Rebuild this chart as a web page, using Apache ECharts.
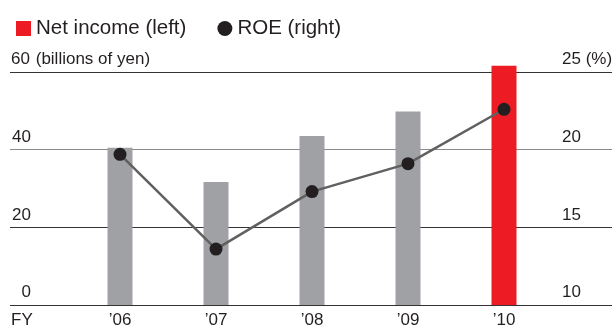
<!DOCTYPE html>
<html>
<head>
<meta charset="utf-8">
<script src="https://cdn.jsdelivr.net/npm/echarts@6/dist/echarts.min.js"></script>
<style>
  html, body { margin: 0; padding: 0; background: #fff; }
  #chart { width: 614px; height: 325px; }
</style>
</head>
<body>
<div id="chart"></div>
<script>
const years = ['\u201906', '\u201907', '\u201908', '\u201909', '\u201910']
const netIncome = [40.5, 31.7, 43.5, 49.8, 61.6]
const roe = [19.7, 13.6, 17.3, 19.1, 22.6]
const leftTicks = [0, 20, 40, 60]
const rightTicks = [10, 15, 20, 25]

const font = 'Liberation Sans'
const ink = '#231f20'
const grey = '#a0a1a5'
const red = '#ed1c24'

const chart = echarts.init(document.getElementById('chart'))

const opt = {
    animation: false,
    textStyle: { fontFamily: font, color: ink },
    legend: {
        left: 11,
        top: 13,
        itemWidth: 15,
        itemHeight: 15,
        itemGap: 31,
        textStyle: { fontSize: 20.5, color: ink, fontFamily: font },
        data: [
            { name: 'Net income (left)', icon: 'rect', itemStyle: { color: red } },
            { name: 'ROE (right)', icon: 'circle', itemStyle: { color: ink } }
        ]
    },
    grid: [
        { left: 10, right: 2, top: 72, height: 233, outerBoundsMode: 'none' },
        { left: 72, right: 62, top: 72, height: 233, outerBoundsMode: 'none' }
    ],
    xAxis: [
        { gridIndex: 0, type: 'value', show: false, min: 0, max: 1 },
        {
            gridIndex: 1,
            type: 'category',
            data: years,
            axisLine: { show: false },
            axisTick: { show: false },
            axisLabel: { fontSize: 17, color: ink, margin: 7, fontFamily: font }
        }
    ],
    yAxis: [
        {
            gridIndex: 0,
            type: 'value',
            position: 'left',
            min: leftTicks[0],
            max: leftTicks[leftTicks.length - 1],
            interval: 20,
            axisLine: { show: false },
            axisTick: { show: false },
            splitLine: { lineStyle: { color: ['#333', '#333', '#8a8a8a', '#333'], width: 1.2 } },
            axisLabel: {
                inside: true,
                margin: 0,
                verticalAlign: 'bottom',
                padding: [0, 0, 4, 0],
                formatter: v => v === 60 ? '{n|' + v + '} (billions of yen)' : '{n|' + v + '}',
                fontSize: 17,
                color: ink,
                rich: { n: { width: 21, align: 'right', fontSize: 17, color: ink, fontFamily: font } }
            }
        },
        {
            gridIndex: 0,
            type: 'value',
            position: 'right',
            min: rightTicks[0],
            max: rightTicks[rightTicks.length - 1],
            interval: 5,
            axisLine: { show: false },
            axisTick: { show: false },
            splitLine: { show: false },
            axisLabel: {
                inside: true,
                margin: 50,
                align: 'left',
                verticalAlign: 'bottom',
                padding: [0, 0, 4, 0],
                fontSize: 17,
                color: ink,
                formatter: v => v === 25 ? v + ' (%)' : '' + v
            }
        },
        { gridIndex: 1, type: 'value', min: 0, max: 60, show: false },
        { gridIndex: 1, type: 'value', min: 10, max: 25, show: false }
    ],
    graphic: [
        { type: 'text', left: 11, top: 312, style: { text: 'FY', fontSize: 17, fill: ink, fontFamily: font } }
    ],
    series: [
        {
            name: 'Net income (left)',
            type: 'bar',
            xAxisIndex: 1,
            yAxisIndex: 2,
            barWidth: 25,
            clip: false,
            itemStyle: { color: grey },
            data: netIncome.map((v, i) => i === netIncome.length - 1 ? { value: v, itemStyle: { color: red } } : v)
        },
        {
            name: 'ROE (right)',
            type: 'line',
            xAxisIndex: 1,
            yAxisIndex: 3,
            symbol: 'circle',
            symbolSize: 13,
            itemStyle: { color: ink },
            lineStyle: { color: '#606060', width: 2.5 },
            data: roe
        }
    ]
}

chart.setOption(opt)
</script>
</body>
</html>
